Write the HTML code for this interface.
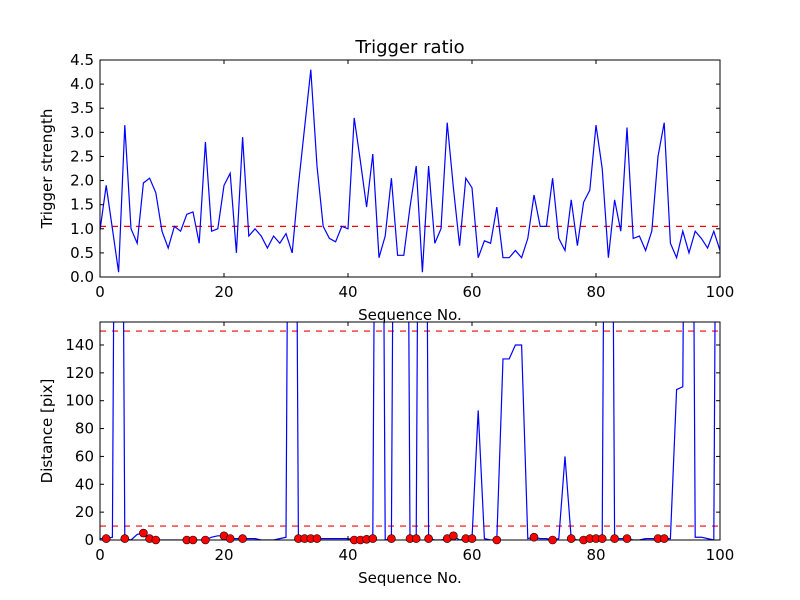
<!DOCTYPE html>
<html><head><meta charset="utf-8"><style>
body{margin:0;background:#fff}
svg{display:block;font-family:"DejaVu Sans","Liberation Sans",sans-serif}
</style></head><body>
<svg id="fig" width="800" height="600" xmlns="http://www.w3.org/2000/svg">
<rect width="800" height="600" fill="#fff"/>
<g id="top"></g><g id="bot"></g>
</svg>
<script>
const topValues=[0.97,1.9,1.0,0.1,3.15,1.0,0.7,1.95,2.05,1.75,0.95,0.6,1.05,0.95,1.3,1.35,0.7,2.8,0.95,1.0,1.9,2.15,0.5,2.9,0.85,1.0,0.85,0.6,0.85,0.7,0.9,0.5,1.9,3.1,4.3,2.3,1.05,0.8,0.73,1.05,1.0,3.3,2.4,1.45,2.55,0.4,0.85,2.05,0.45,0.45,1.45,2.3,0.1,2.3,0.7,1.0,3.2,1.85,0.65,2.05,1.85,0.4,0.75,0.7,1.45,0.4,0.4,0.55,0.4,0.8,1.7,1.05,1.05,2.05,0.8,0.55,1.6,0.65,1.55,1.8,3.15,2.25,0.4,1.6,0.95,3.1,0.8,0.85,0.55,0.95,2.5,3.2,0.7,0.4,0.95,0.5,0.95,0.8,0.6,0.95,0.55];
const topThreshold=1.05;
const botValues=[1,1,2,800,1,0,4,5,1,0,0,0,0,0,0,0,0,0,2,3,3,1,1,1,1,1,0,0,0,1,2,800,1,1,1,1,1,1,1,1,1,0,0,0.5,1,800,0,1,800,800,1,1,800,1,0,0,1,3,0,1,1,93,1,0,0,130,130,140,140,1,2,1,1,0,1,60,1,0,0,1,1,1,800,1,1,1,0,0,1,1,1,1,1,108,110,800,2,2,1,0,800];
const dotIdx=[1,4,7,8,9,14,15,17,20,21,23,32,33,34,35,41,42,43,44,47,50,51,53,56,57,59,60,64,70,73,76,78,79,80,81,83,85,90,91];
const botThresholds=[150,10];
const xTicks=[0,20,40,60,80,100];
const topYTicks=[0.0,0.5,1.0,1.5,2.0,2.5,3.0,3.5,4.0,4.5];
const botYTicks=[0,20,40,60,80,100,120,140];

const NS="http://www.w3.org/2000/svg";
function mk(p,t,a){const e=document.createElementNS(NS,t);for(const k in a)e.setAttribute(k,a[k]);p.appendChild(e);return e;}
const L=100,R=720;
const sx=v=>L+(v-0)/(100-0)*(R-L);

function axes(g,T,B,ymax,yticks,fmt,ylabel,name){
  const sy=v=>B-v/ymax*(B-T);
  const cid='clip'+name;
  const cp=mk(mk(g,'defs',{}),'clipPath',{id:cid});mk(cp,'rect',{x:L,y:T,width:R-L,height:B-T});
  const plot=mk(g,'g',{'clip-path':'url(#'+cid+')'});
  
  
  const frame=mk(g,'rect',{x:L,y:T,width:R-L,height:B-T,fill:'none',stroke:'#000','stroke-width':1});
  
  
  xTicks.forEach(v=>{const x=sx(v);
    mk(g,'line',{x1:x,x2:x,y1:B,y2:B-4,stroke:'#000'});mk(g,'line',{x1:x,x2:x,y1:T,y2:T+4,stroke:'#000'});
    const t=mk(g,'text',{x:x,y:B+20,'text-anchor':'middle','font-size':15});t.textContent=v;
    
    });
  yticks.forEach(v=>{const y=sy(v);
    mk(g,'line',{x1:L,x2:L+4,y1:y,y2:y,stroke:'#000'});mk(g,'line',{x1:R,x2:R-4,y1:y,y2:y,stroke:'#000'});
    const t=mk(g,'text',{x:L-6,y:y+5,'text-anchor':'end','font-size':15});t.textContent=fmt(v);
    
    });
  const xl=mk(g,'text',{x:(L+R)/2,y:B+43,'text-anchor':'middle','font-size':15});xl.textContent='Sequence No.';
  
  
  const yl=mk(g,'text',{x:0,y:0,'text-anchor':'middle','font-size':15,transform:`translate(${L-48},${(T+B)/2}) rotate(-90)`});yl.textContent=ylabel;
  
  
  return {plot,sy};
}
// top
const gt=document.getElementById('top');
const A=axes(gt,60,277,4.5,topYTicks,v=>v.toFixed(1),'Trigger strength','top');
const tl=mk(A.plot,'line',{x1:L,x2:R,y1:A.sy(topThreshold),y2:A.sy(topThreshold),stroke:'red','stroke-dasharray':'6,6','stroke-width':1.2});


const tp=mk(A.plot,'polyline',{points:topValues.map((v,i)=>sx(i)+','+A.sy(v)).join(' '),fill:'none',stroke:'blue','stroke-width':1.2});


const title=mk(gt,'text',{x:(L+R)/2,y:53,'text-anchor':'middle','font-size':18});title.textContent='Trigger ratio';


// bottom
const gb=document.getElementById('bot');
const Bx=axes(gb,322,540,156.5,botYTicks,v=>v,'Distance [pix]','bottom');
botThresholds.forEach(v=>{const l=mk(Bx.plot,'line',{x1:L,x2:R,y1:Bx.sy(v),y2:Bx.sy(v),stroke:'red','stroke-dasharray':'6,6','stroke-width':1.2});
  
  });
const bp=mk(Bx.plot,'polyline',{points:botValues.map((v,i)=>sx(i)+','+Bx.sy(v)).join(' '),fill:'none',stroke:'blue','stroke-width':1.2});


const dg=mk(gb,'g',{});
dotIdx.forEach(i=>{const c=mk(dg,'circle',{cx:sx(i),cy:Bx.sy(botValues[i]),r:4,fill:'red',stroke:'#000','stroke-width':0.6});
  
  });
</script>
</body></html>
